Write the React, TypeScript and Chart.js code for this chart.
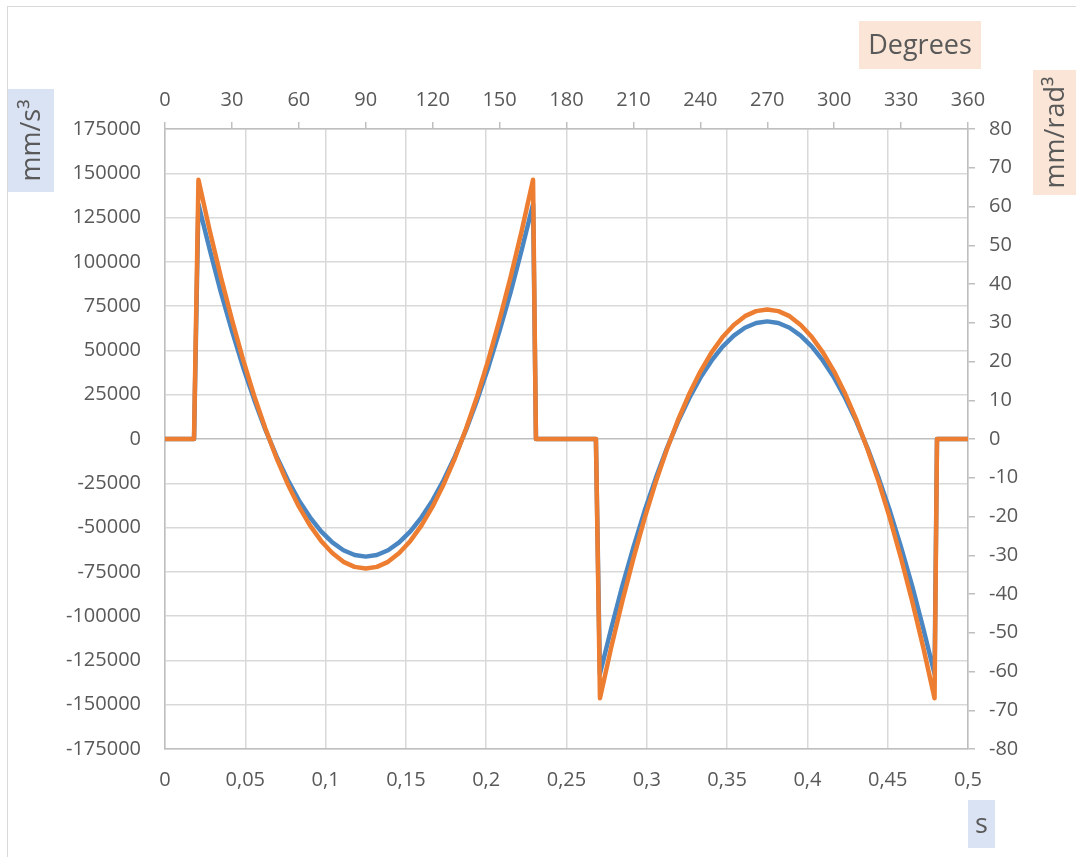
import React, { useEffect, useRef } from "react";
import { Chart, registerables } from "chart.js";

Chart.register(...registerables);

// Cam angle (top axis, degrees) for each sample
const degrees = [
  0, 13,
  15, 20, 25, 30, 35, 40, 45, 50, 55, 60, 65, 70, 75, 80, 85, 90,
  95, 100, 105, 110, 115, 120, 125, 130, 135, 140, 145, 150, 155, 160, 165,
  166.3, 193.2,
  195, 200, 205, 210, 215, 220, 225, 230, 235, 240, 245, 250, 255, 260, 265, 270,
  275, 280, 285, 290, 295, 300, 305, 310, 315, 320, 325, 330, 335, 340, 345,
  346.1, 360,
];

// Time (bottom axis, s) for each sample
const seconds = [
  0, 0.0181,
  0.0208, 0.0278, 0.0347, 0.0417, 0.0486, 0.0556, 0.0625, 0.0694, 0.0764, 0.0833, 0.0903, 0.0972, 0.1042, 0.1111, 0.1181, 0.125,
  0.1319, 0.1389, 0.1458, 0.1528, 0.1597, 0.1667, 0.1736, 0.1806, 0.1875, 0.1944, 0.2014, 0.2083, 0.2153, 0.2222, 0.2292,
  0.231, 0.2683,
  0.2708, 0.2778, 0.2847, 0.2917, 0.2986, 0.3056, 0.3125, 0.3194, 0.3264, 0.3333, 0.3403, 0.3472, 0.3542, 0.3611, 0.3681, 0.375,
  0.3819, 0.3889, 0.3958, 0.4028, 0.4097, 0.4167, 0.4236, 0.4306, 0.4375, 0.4444, 0.4514, 0.4583, 0.4653, 0.4722, 0.4792,
  0.4807, 0.5,
];

// Jerk in mm/s³ (left axis)
const jerkPerSecond = [
  0, 0,
  132700, 107100, 83200, 61000, 40700, 22100, 5300, -9700, -23000, -34500, -44200, -52200, -58400, -62800, -65500, -66400,
  -65500, -62800, -58400, -52200, -44200, -34500, -23000, -9700, 5300, 22100, 40700, 61000, 83200, 107100, 132700,
  0, 0,
  -132700, -107100, -83200, -61000, -40700, -22100, -5300, 9700, 23000, 34500, 44200, 52200, 58400, 62800, 65500, 66400,
  65500, 62800, 58400, 52200, 44200, 34500, 23000, 9700, -5300, -22100, -40700, -61000, -83200, -107100, -132700,
  0, 0,
];

// Jerk in mm/rad³ (right axis)
const jerkPerRadian = [
  0, 0,
  66.9, 53.9, 41.9, 30.8, 20.5, 11.1, 2.7, -4.9, -11.6, -17.4, -22.3, -26.3, -29.4, -31.7, -33.0, -33.4,
  -33.0, -31.7, -29.4, -26.3, -22.3, -17.4, -11.6, -4.9, 2.7, 11.1, 20.5, 30.8, 41.9, 53.9, 66.9,
  0, 0,
  -66.9, -53.9, -41.9, -30.8, -20.5, -11.1, -2.7, 4.9, 11.6, 17.4, 22.3, 26.3, 29.4, 31.7, 33.0, 33.4,
  33.0, 31.7, 29.4, 26.3, 22.3, 17.4, 11.6, 4.9, -2.7, -11.1, -20.5, -30.8, -41.9, -53.9, -66.9,
  0, 0,
];

const leftTitle = "mm/s³";
const rightTitle = "mm/rad³";
const topTitle = "Degrees";
const bottomTitle = "s";

const FONT = "'Open Sans', 'DejaVu Sans', sans-serif";
const TEXT = "#595959";
const GRID = "#d9d9d9";
const AXIS = "#bfbfbf";
const BLUE = "#4a86c2";
const ORANGE = "#ed7d31";

const decorations = {
  id: "decorations",
  beforeDraw(chart: any) {
    const ctx = chart.ctx;
    ctx.save();
    ctx.strokeStyle = GRID;
    ctx.lineWidth = 1;
    ctx.strokeRect(7.5, 6.5, 1080, 900);
    ctx.restore();
  },
  afterDraw(chart: any) {
    const ctx = chart.ctx;
    ctx.save();
    ctx.font = `27px ${FONT}`;
    ctx.textAlign = "center";
    ctx.textBaseline = "middle";
    // Degrees
    ctx.fillStyle = "#fbe5d6";
    ctx.fillRect(859, 21, 122, 48);
    ctx.fillStyle = TEXT;
    ctx.fillText(topTitle, 920, 46);
    // s
    ctx.fillStyle = "#dae3f3";
    ctx.fillRect(968, 800, 27, 48);
    ctx.fillStyle = TEXT;
    ctx.fillText(bottomTitle, 981.5, 825);
    // mm/s³
    ctx.fillStyle = "#dae3f3";
    ctx.fillRect(8, 89, 46, 103);
    ctx.fillStyle = TEXT;
    ctx.save();
    ctx.translate(32, 140.5);
    ctx.rotate(-Math.PI / 2);
    ctx.fillText(leftTitle, 0, 0);
    ctx.restore();
    // mm/rad³
    ctx.fillStyle = "#fbe5d6";
    ctx.fillRect(1033, 70, 43, 125);
    ctx.fillStyle = TEXT;
    ctx.save();
    ctx.translate(1056, 132.5);
    ctx.rotate(-Math.PI / 2);
    ctx.fillText(rightTitle, 0, 0);
    ctx.restore();
    ctx.restore();
  },
};

export default function App() {
  const ref = useRef<HTMLCanvasElement | null>(null);

  useEffect(() => {
    if (!ref.current) return;
    const tickFont = { family: FONT, size: 20 };
    const chart = new Chart(ref.current, {
      type: "line",
      data: {
        datasets: [
          {
            label: rightTitle,
            data: degrees.map((d, i) => ({ x: d, y: jerkPerRadian[i] })),
            xAxisID: "x2",
            yAxisID: "y2",
            borderColor: ORANGE,
            borderWidth: 4.5,
            pointRadius: 0,
            tension: 0,
            fill: false,
            borderJoinStyle: "round",
            borderCapStyle: "round",
            order: 1,
          },
          {
            label: leftTitle,
            data: seconds.map((t, i) => ({ x: t, y: jerkPerSecond[i] })),
            xAxisID: "x",
            yAxisID: "y",
            borderColor: BLUE,
            borderWidth: 4.5,
            pointRadius: 0,
            tension: 0,
            fill: false,
            borderJoinStyle: "round",
            borderCapStyle: "round",
            order: 2,
          },
        ],
      },
      options: {
        animation: false,
        responsive: false,
        devicePixelRatio: 1,
        layout: { padding: 0 },
        plugins: { legend: { display: false }, tooltip: { enabled: false } },
        scales: {
          x: {
            type: "linear",
            position: "bottom",
            min: 0,
            max: 0.5,
            afterFit: (s: any) => {
              s.height = 108;
            },
            ticks: {
              stepSize: 0.05,
              autoSkip: false,
              maxRotation: 0,
              color: TEXT,
              font: tickFont,
              padding: 19,
              callback: (v: any) => String(Math.round(Number(v) * 100) / 100).replace(".", ","),
            },
            grid: { color: GRID, drawTicks: false, lineWidth: 1.5 },
            border: { color: AXIS, width: 1.5 },
          },
          x2: {
            type: "linear",
            position: "top",
            min: 0,
            max: 360,
            afterFit: (s: any) => {
              s.height = 129;
            },
            ticks: {
              stepSize: 30,
              autoSkip: false,
              maxRotation: 0,
              color: TEXT,
              font: tickFont,
              padding: 10,
            },
            grid: { drawOnChartArea: false, drawTicks: true, tickLength: 7, tickColor: AXIS, lineWidth: 1.5 },
            border: { color: AXIS, width: 1.5 },
          },
          y: {
            type: "linear",
            position: "left",
            min: -175000,
            max: 175000,
            afterFit: (s: any) => {
              s.width = 165;
            },
            ticks: {
              stepSize: 25000,
              autoSkip: false,
              color: TEXT,
              font: tickFont,
              padding: 24,
              callback: (v: any) => String(v),
            },
            grid: {
              color: (c: any) => (c.tick && c.tick.value === 0 ? AXIS : GRID),
              drawTicks: false,
              lineWidth: 1.5,
            },
            border: { color: AXIS, width: 1.5 },
          },
          y2: {
            type: "linear",
            position: "right",
            min: -80,
            max: 80,
            afterFit: (s: any) => {
              s.width = 108;
            },
            ticks: {
              stepSize: 10,
              autoSkip: false,
              color: TEXT,
              font: tickFont,
              padding: 14,
            },
            grid: { drawOnChartArea: false, drawTicks: true, tickLength: 7, tickColor: AXIS, lineWidth: 1.5 },
            border: { color: AXIS, width: 1.5 },
          },
        },
      } as any,
      plugins: [decorations],
    });
    return () => chart.destroy();
  }, []);

  return (
    <canvas
      ref={ref}
      width={1076}
      height={857}
      style={{ position: "absolute", left: 0, top: 0, display: "block" }}
    />
  );
}
